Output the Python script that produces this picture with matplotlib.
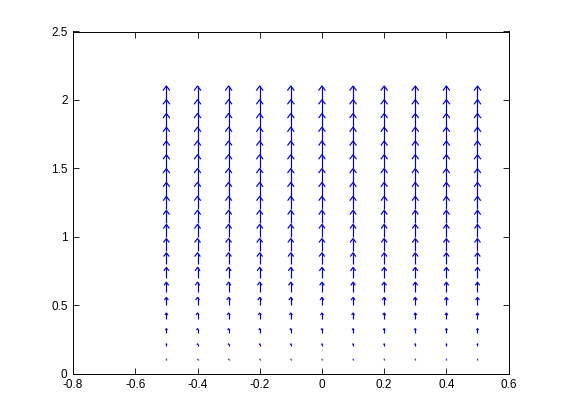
import numpy as np
import matplotlib
matplotlib.use("Agg")
import matplotlib.pyplot as plt
from matplotlib.collections import LineCollection

# columnas y filas de la malla
xs = [-0.5, -0.4, -0.3, -0.2, -0.1, 0.0, 0.1, 0.2, 0.3, 0.4, 0.5]
ys = [0.1, 0.2, 0.3, 0.4, 0.5, 0.6, 0.7, 0.8, 0.9, 1.0,
      1.1, 1.2, 1.3, 1.4, 1.5, 1.6, 1.7, 1.8, 1.9, 2.0]
# componente vertical de cada flecha (igual en todas las columnas), u = 0
v = [0.007, 0.019, 0.030, 0.044, 0.058, 0.069, 0.077, 0.084, 0.088, 0.091,
     0.094, 0.096, 0.098, 0.099, 0.100, 0.100, 0.101, 0.101, 0.102, 0.102]

xticks = [-0.8, -0.6, -0.4, -0.2, 0, 0.2, 0.4, 0.6]
yticks = [0, 0.5, 1, 1.5, 2, 2.5]

plt.rcParams['font.family'] = ['Liberation Sans', 'DejaVu Sans']

fig = plt.figure(figsize=(5.62, 4.2), dpi=100)
ax = fig.add_axes([0.13, 0.11, 0.775, 0.815])

# flechas estilo quiver de MATLAB (alpha = beta = 0.33)
alpha, beta = 0.33, 0.33
segs = []
for x in xs:
    for y, vv in zip(ys, v):
        tip = (x, y + vv)
        segs.append([(x, y), tip])
        segs.append([(x - alpha * beta * vv, y + vv - alpha * vv), tip,
                     (x + alpha * beta * vv, y + vv - alpha * vv)])
ax.add_collection(LineCollection(segs, colors=(0, 0, 0.85), linewidths=0.85))

ax.set_xlim(-0.8, 0.6)
ax.set_ylim(0, 2.5)
ax.set_xticks(xticks)
ax.set_yticks(yticks)
ax.set_xticklabels(["-0.8", "-0.6", "-0.4", "-0.2", "0", "0.2", "0.4", "0.6"])
ax.set_yticklabels(["0", "0.5", "1", "1.5", "2", "2.5"])
ax.tick_params(direction="in", length=4, width=0.6, top=True, right=True,
               labelsize=8.5, pad=4)
for s in ax.spines.values():
    s.set_linewidth(0.7)

fig.savefig("out.png", dpi=100)
